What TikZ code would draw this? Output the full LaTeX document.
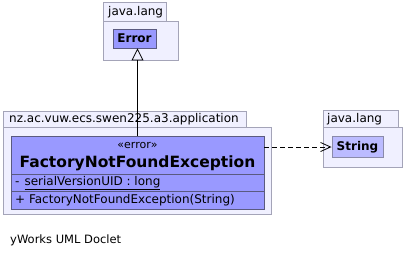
\documentclass[tikz,border=0pt]{standalone}
\usepackage{fontspec}
\setmainfont{DejaVu Sans}
\usepackage{xcolor}
\usetikzlibrary{arrows.meta}
\definecolor{pkgfill}{HTML}{F0F0FF}
\definecolor{pkgline}{HTML}{A4A4B8}
\definecolor{clsfill}{HTML}{9999FF}
\definecolor{reffill}{HTML}{BBBBFF}
\definecolor{clsline}{HTML}{5A5A80}
\definecolor{refline}{HTML}{8A8AAA}
\newcommand{\pkgfont}{\fontsize{12}{14}\selectfont}

\begin{document}
\begin{tikzpicture}[x=1pt,y=-1pt,
  pkg/.style={draw=pkgline, fill=pkgfill, line width=0.9pt},
  cls/.style={draw=clsline, fill=clsfill, line width=0.9pt, inner sep=0pt, font=\pkgfont\bfseries},
  ref/.style={draw=refline, fill=reffill, line width=0.9pt, inner sep=0pt, font=\pkgfont\bfseries},
  txt/.style={anchor=west, inner sep=0pt, font=\pkgfont}]
\useasboundingbox (0,0) rectangle (405,255);

\draw[pkg] (103,2) rectangle (166,21);
\draw[pkg] (103,21) rectangle (178,60);
\node[txt] (lang1) at (108,12) {java.lang};
\node[cls, minimum width=43pt, minimum height=19pt] (err) at (134.5,38.5) {Error};

\draw[pkg] (3,111) rectangle (246,127);
\draw[pkg] (3,127) rectangle (271,214);
\node[txt] (app) at (9,119) {nz.ac.vuw.ecs.swen225.a3.application};
\node[cls, minimum width=253pt, minimum height=73pt] (fnfe) at (137.5,172.5) {};
\node[inner sep=0pt, font=\fontsize{11}{13}\selectfont] (stereo) at (137.5,145) {«error»};
\node[inner sep=0pt, font=\fontsize{15.5}{18}\selectfont\bfseries] (name) at (137.5,163) {FactoryNotFoundException};
\draw[clsline, line width=0.9pt] (11,174) -- (264,174);
\draw[clsline, line width=0.9pt] (11,191) -- (264,191);
\node[txt] (attr) at (15,183) {-\hspace{5pt}\underline{serialVersionUID : long}};
\node[txt] (ctor) at (15,200) {+ FactoryNotFoundException(String)};

\draw[pkg] (323,110) rectangle (398,127);
\draw[pkg] (323,127) rectangle (402,167);
\node[txt] (lang2) at (327,119) {java.lang};
\node[ref, minimum width=51pt, minimum height=21pt] (str) at (357.5,147) {String};

\draw[line width=0.8pt, -{Triangle[open, length=12pt, width=12pt]}] (fnfe.north) -- (fnfe.north |- err.south);
\draw[line width=0.8pt, dashed, dash pattern=on 5pt off 3pt, -{Straight Barb[length=10pt, width=9pt]}] (fnfe.east |- str.west) -- (str.west);

\node[txt, font=\fontsize{11.5}{13}\selectfont] (doclet) at (10,240) {yWorks UML Doclet};
\end{tikzpicture}
\end{document}
